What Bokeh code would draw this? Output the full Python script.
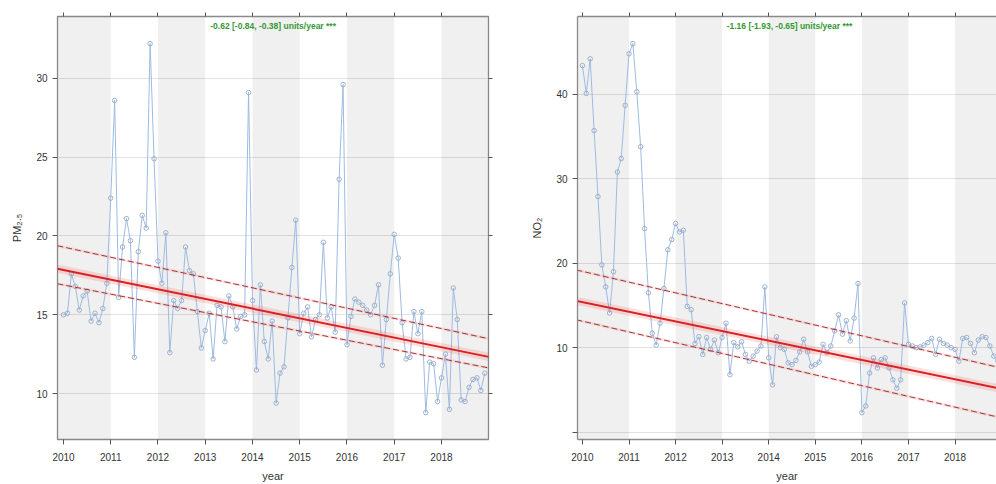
from bokeh.plotting import figure
from bokeh.layouts import row
from bokeh.models import Range1d, LinearAxis, FixedTicker, BoxAnnotation, Label
from bokeh.embed import file_html
from bokeh.resources import INLINE

# ---------------- data ----------------
years = [2010, 2011, 2012, 2013, 2014, 2015, 2016, 2017, 2018]
month_numbers = list(range(1, 13))

pm25 = [
    15.0, 15.1, 17.6, 16.8, 15.3, 16.2, 16.5, 14.6, 15.1, 14.5, 15.4, 17.0,
    22.4, 28.6, 16.1, 19.3, 21.1, 19.7, 12.3, 19.0, 21.3, 20.5, 32.2, 24.9,
    18.4, 17.0, 20.2, 12.6, 15.9, 15.4, 15.9, 19.3, 17.8, 17.6, 15.2, 12.9,
    14.0, 15.1, 12.2, 15.6, 15.5, 13.3, 16.2, 15.5, 14.1, 14.9, 15.0, 29.1,
    15.9, 11.5, 16.9, 13.3, 12.2, 14.6, 9.4, 11.3, 11.7, 14.8, 18.0, 21.0,
    13.8, 15.1, 15.5, 13.6, 14.7, 15.0, 19.6, 14.8, 15.5, 13.9, 23.6, 29.6,
    13.1, 14.9, 16.0, 15.8, 15.6, 15.3, 15.0, 15.6, 16.9, 11.8, 14.7, 17.6,
    20.1, 18.6, 14.5, 12.2, 12.3, 15.2, 13.8, 15.2, 8.8, 12.0, 11.9, 9.5,
    11.0, 12.5, 9.0, 16.7, 14.7, 9.6, 9.5, 10.4, 10.9, 11.0, 10.2, 11.3,
]

no2 = [
    43.4, 40.1, 44.2, 35.7, 27.9, 19.8, 17.2, 14.1, 19.0, 30.8, 32.4, 38.7,
    44.8, 46.0, 40.3, 33.8, 24.1, 16.5, 11.7, 10.3, 12.9, 17.0, 21.6, 22.8,
    24.7, 23.7, 23.9, 14.9, 14.5, 10.5, 11.3, 9.2, 11.2, 9.8, 10.9, 9.4,
    11.2, 12.9, 6.8, 10.6, 10.1, 10.7, 9.2, 8.4, 9.0, 9.6, 10.2, 17.2,
    8.8, 5.6, 11.3, 10.0, 9.8, 8.2, 8.0, 8.5, 9.5, 11.0, 9.5, 7.8,
    8.0, 8.3, 10.4, 9.4, 10.2, 12.0, 13.9, 11.6, 13.2, 10.8, 13.5, 17.6,
    2.3, 3.1, 7.0, 8.8, 7.6, 8.6, 8.8, 7.6, 6.2, 5.2, 6.2, 15.3,
    10.4, 10.2, 10.0, 10.1, 10.3, 10.6, 11.1, 9.2, 11.0, 10.5, 10.3, 10.0,
    9.8, 8.4, 11.1, 11.2, 10.5, 9.4, 10.9, 11.3, 11.2, 10.2, 9.0, 8.5,
]

shaded_years = [2010, 2012, 2014, 2016, 2018]
pm25_ticks = [10, 15, 20, 25, 30]
no2_ticks = [0, 10, 20, 30, 40]
no2_tick_labels = {0: "", 10: "10", 20: "20", 30: "30", 40: "40"}

trend_x = [2009.87, 2019.0]
pm25_trend = [17.92, 12.33]
pm25_upper = [19.38, 13.48]
pm25_lower = [16.97, 11.63]
no2_trend = [15.55, 5.11]
no2_upper = [19.20, 7.59]
no2_lower = [13.30, 1.69]

pm25_label = "-0.62 [-0.84, -0.38] units/year ***"
no2_label = "-1.16 [-1.93, -0.65] units/year ***"

# decimal time of each monthly value
t = [y + (m - 1) / 12.0 for y in years for m in month_numbers]

FONT = "Liberation Sans"
FRAME = "#8a8a8a"


def panel(values, ylabel, yticks, ylo, yhi, xlo, xhi, width, mbl, mbr,
          trend, upper, lower, label, label_y, tick_overrides=None, cut_right=False):
    p = figure(width=width, height=484,
               x_range=Range1d(xlo, xhi), y_range=Range1d(ylo, yhi),
               output_backend="svg", toolbar_location=None,
               min_border_left=mbl, min_border_right=mbr,
               min_border_top=16, min_border_bottom=44)
    p.background_fill_color = "white"
    p.border_fill_color = "white"

    # year bands
    for yr in shaded_years:
        left = xlo if yr == years[0] else yr
        p.add_layout(BoxAnnotation(left=left, right=yr + 1, fill_color="black",
                                   fill_alpha=0.058, line_color=None, level="underlay"))

    p.xgrid.visible = False
    p.ygrid.ticker = FixedTicker(ticks=yticks)
    p.ygrid.grid_line_color = "#e2e2e2"
    p.ygrid.grid_line_width = 1

    # axes
    xa = p.xaxis[0]
    xa.ticker = FixedTicker(ticks=years)
    xa.axis_label = "year"
    ya = p.yaxis[0]
    ya.ticker = FixedTicker(ticks=yticks)
    ya.axis_label = ylabel
    if tick_overrides:
        ya.major_label_overrides = tick_overrides
    for ax in (xa, ya):
        ax.major_tick_out = 5
        ax.major_tick_in = 0
        ax.minor_tick_line_color = None
        ax.major_tick_line_color = "#555555"
        ax.major_label_text_font = FONT
        ax.major_label_text_font_size = "10px"
        ax.major_label_text_color = "#333333"
        ax.axis_label_text_font = FONT
        ax.axis_label_text_font_size = "11px"
        ax.axis_label_text_font_style = "normal"
        ax.axis_label_text_color = "#333333"
    xa.major_label_standoff = 8
    xa.axis_label_standoff = 6
    ya.major_label_standoff = 5
    ya.axis_label_standoff = 10

    top = LinearAxis(ticker=FixedTicker(ticks=years),
                     major_label_overrides={y: "" for y in years},
                     major_label_text_font_size="0px", major_label_standoff=0,
                     major_tick_out=4, major_tick_in=0, minor_tick_line_color=None,
                     major_tick_line_color="#555555")
    p.add_layout(top, "above")

    if not cut_right:
        right = LinearAxis(ticker=FixedTicker(ticks=yticks),
                           major_label_overrides={v: "" for v in yticks},
                           major_label_text_font_size="0px", major_label_standoff=0,
                           major_tick_out=4, major_tick_in=0, minor_tick_line_color=None,
                           major_tick_line_color="#555555")
        p.add_layout(right, "right")
        right.axis_line_color = None
        p.outline_line_color = FRAME
        p.outline_line_width = 1.3
        for ax in (xa, ya, top):
            ax.axis_line_color = None
    else:
        p.outline_line_color = None
        for ax in (xa, ya, top):
            ax.axis_line_color = FRAME
            ax.axis_line_width = 1.3

    # data series
    p.line(t, values, line_color="#9dbbe2", line_width=1.0)
    p.scatter(t, values, marker="circle", size=4.5, fill_color=None,
              line_color="#94aac8", line_width=0.9)

    # trend + confidence
    p.line(trend_x, trend, line_color="#ff3030", line_width=8, line_alpha=0.16)
    p.line(trend_x, upper, line_color="#ff4040", line_width=3, line_alpha=0.12)
    p.line(trend_x, lower, line_color="#ff4040", line_width=3, line_alpha=0.12)
    p.line(trend_x, trend, line_color="#d62222", line_width=2)
    p.line(trend_x, upper, line_color="#a33434", line_width=1, line_dash="6 3")
    p.line(trend_x, lower, line_color="#a33434", line_width=1, line_dash="6 3")

    p.add_layout(Label(x=(xlo + 2019.0) / 2.0, y=label_y, text=label,
                       text_color="#339933", text_font=FONT, text_font_style="bold",
                       text_font_size="8.5px", text_align="center",
                       text_baseline="middle"))
    return p


p1 = panel(pm25, "PM\u2082.\u2085", pm25_ticks, 7.09, 33.92, 2009.873, 2018.995,
           528, 57, 40, pm25_trend, pm25_upper, pm25_lower, pm25_label, 33.30)
p2 = panel(no2, "NO\u2082", no2_ticks, -0.87, 49.21, 2009.894, 2018.891,
           468, 44, 0, no2_trend, no2_upper, no2_lower, no2_label, 48.05,
           tick_overrides=no2_tick_labels, cut_right=True)

layout = row(p1, p2)
open("out.html", "w").write(file_html(layout, INLINE))
